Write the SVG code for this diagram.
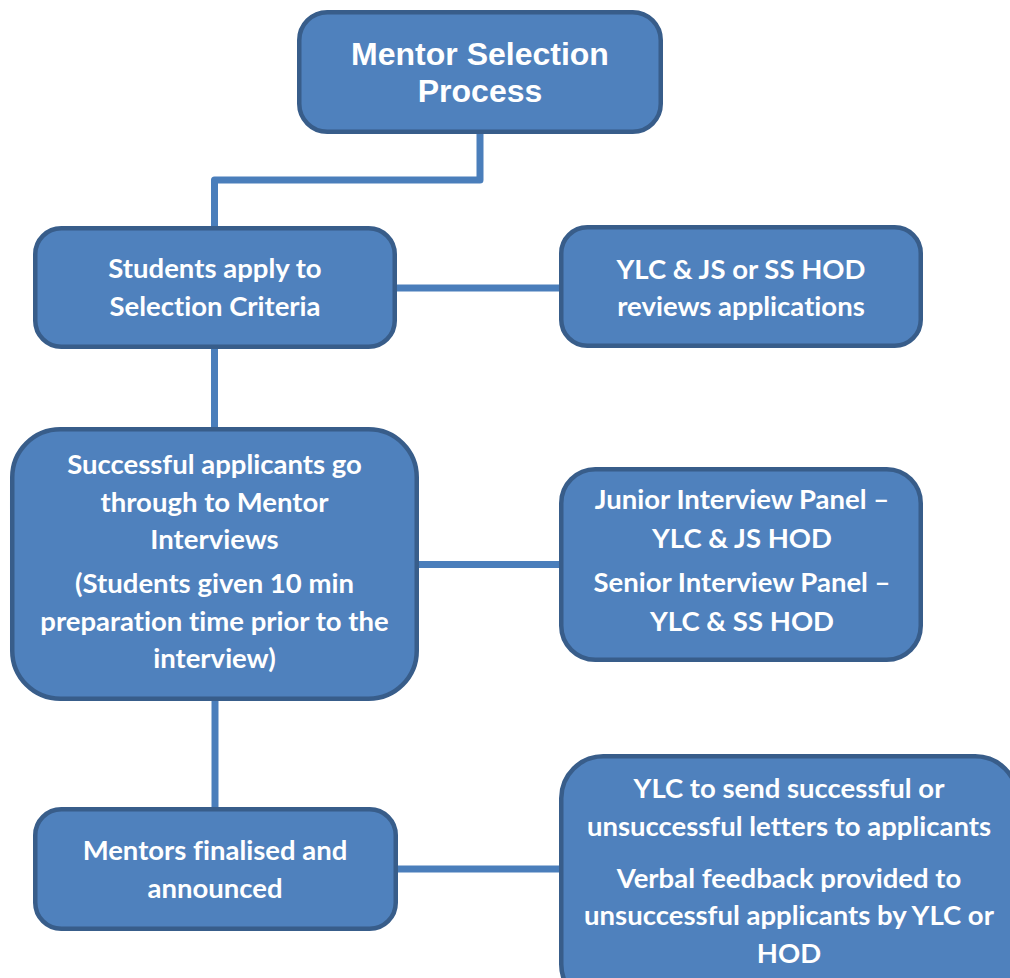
<svg xmlns="http://www.w3.org/2000/svg" width="1010" height="978" viewBox="0 0 1010 978">
<style>
.box{fill:#4F81BD;stroke:#385D8A;stroke-width:4.5}
.t{font-family:Lato,"Noto Sans","Liberation Sans",sans-serif;font-weight:bold;font-size:27.5px;fill:#fff;text-anchor:middle;font-variant-ligatures:none}
.title{font-family:"Liberation Sans",Arial,sans-serif;font-weight:bold;font-size:32px;fill:#fff;text-anchor:middle}
.c{fill:none;stroke:#4A7EBB;stroke-width:7;stroke-linejoin:round}
</style>
<rect width="1010" height="978" fill="#fff"/>
<g id="connectors">
<path class="c" d="M480,134 V180 H214.5 V226"/>
<path class="c" d="M397,288 H559"/>
<path class="c" d="M214.5,349 V427"/>
<path class="c" d="M419,564.5 H559"/>
<path class="c" d="M215,701 V807"/>
<path class="c" d="M397,869 H559"/>
</g>
<g id="title">
<rect class="box" x="299.25" y="12.25" width="361.5" height="119.5" rx="28"/>
<text class="title" x="480" y="65">Mentor Selection</text>
<text class="title" x="480" y="102">Process</text>
</g>
<g id="apply">
<rect class="box" x="35.25" y="228.25" width="359.5" height="118.5" rx="26"/>
<text class="t" x="215" y="278">Students apply to</text>
<text class="t" x="215" y="316">Selection Criteria</text>
</g>
<g id="review">
<rect class="box" x="561.25" y="227.25" width="359.5" height="118.5" rx="26"/>
<text class="t" x="741" y="279">YLC &amp; JS or SS HOD</text>
<text class="t" x="741" y="316">reviews applications</text>
</g>
<g id="interviews">
<rect class="box" x="12.25" y="429.25" width="404.5" height="269.5" rx="48"/>
<text class="t" x="214.5" y="474">Successful applicants go</text>
<text class="t" x="214.5" y="512">through to Mentor</text>
<text class="t" x="214.5" y="549">Interviews</text>
<text class="t" x="214.5" y="593">(Students given 10 min</text>
<text class="t" x="214.5" y="631">preparation time prior to the</text>
<text class="t" x="214.5" y="668">interview)</text>
</g>
<g id="panels">
<rect class="box" x="561.25" y="469.25" width="359.5" height="190.5" rx="34"/>
<text class="t" x="742" y="509">Junior Interview Panel –</text>
<text class="t" x="742" y="548">YLC &amp; JS HOD</text>
<text class="t" x="742" y="592">Senior Interview Panel –</text>
<text class="t" x="742" y="631">YLC &amp; SS HOD</text>
</g>
<g id="finalised">
<rect class="box" x="35.25" y="809.25" width="360.5" height="119.5" rx="26"/>
<text class="t" x="215" y="860">Mentors finalised and</text>
<text class="t" x="215" y="898">announced</text>
</g>
<g id="letters">
<rect class="box" x="561.25" y="756.25" width="456" height="250" rx="42"/>
<text class="t" x="789" y="798">YLC to send successful or</text>
<text class="t" x="789" y="836">unsuccessful letters to applicants</text>
<text class="t" x="789" y="888">Verbal feedback provided to</text>
<text class="t" x="789" y="925">unsuccessful applicants by YLC or</text>
<text class="t" x="789" y="963">HOD</text>
</g>
</svg>
